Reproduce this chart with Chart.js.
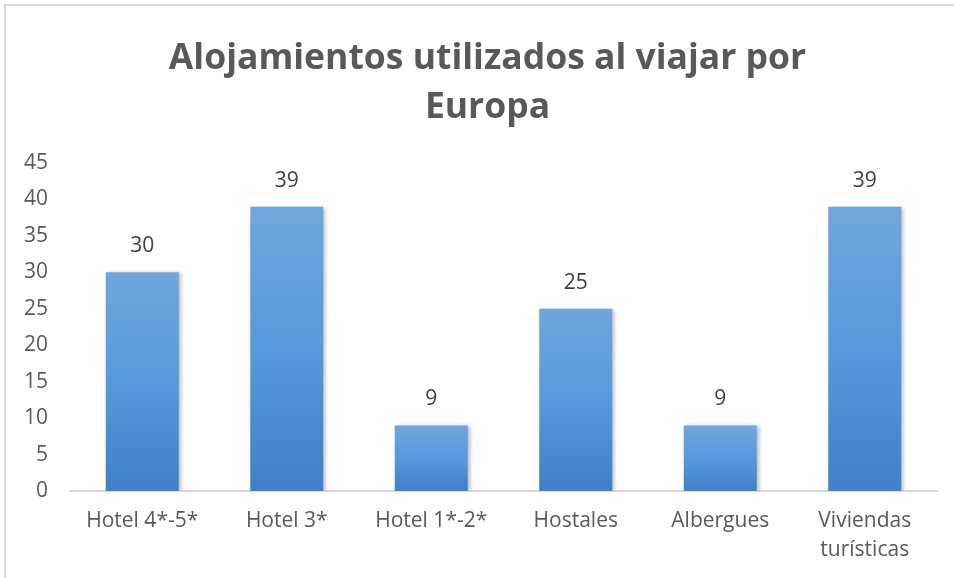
<!DOCTYPE html>
<html>
<head>
<meta charset="utf-8">
<script src="https://cdn.jsdelivr.net/npm/chart.js@4"></script>
<style>
    html, body { margin: 0; padding: 0; background: #fff; overflow: hidden; }
    #wrap { position: relative; width: 954px; height: 578px; overflow: hidden; }
    #frame { position: absolute; left: 4px; top: 4px; width: 1000px; height: 1000px;
             border-left: 2px solid #d9d9d9; border-top: 2px solid #d9d9d9; pointer-events: none; }
</style>
</head>
<body>
<div id="wrap">
    <canvas id="alojChart" width="954" height="578"></canvas>
    <div id="frame"></div>
</div>
<script>
// data
const categories = ['Hotel 4*-5*', 'Hotel 3*', 'Hotel 1*-2*', 'Hostales', 'Albergues', ['Viviendas', 'turísticas']];
const values = [30, 39, 9, 25, 9, 39];
const yTicks = [0, 5, 10, 15, 20, 25, 30, 35, 40, 45];
const titleLines = ['Alojamientos utilizados al viajar por', 'Europa'];

const fontFamily = '"Open Sans", Lato, sans-serif';

// bar gradient, from each bar's top down to the baseline
function barFill(context) {
    const chart = context.chart;
    const y = chart.scales.y;
    if (!y || !context.parsed) return '#5b9bd5';
    const top = y.getPixelForValue(context.parsed.y);
    const base = y.getPixelForValue(0);
    if (!isFinite(top) || !isFinite(base) || top === base) return '#5b9bd5';
    const g = chart.ctx.createLinearGradient(0, top, 0, base);
    g.addColorStop(0, '#70a6dc');
    g.addColorStop(0.5, '#5699dc');
    g.addColorStop(1, '#3f80c6');
    return g;
}

// soft shadow behind the bars
const barShadow = {
    id: 'barShadow',
    beforeDatasetsDraw(chart) {
        const ctx = chart.ctx;
        ctx.save();
        ctx.shadowColor = 'rgba(0,0,0,0.28)';
        ctx.shadowBlur = 4;
        ctx.shadowOffsetX = 2;
        ctx.shadowOffsetY = 1;
    },
    afterDatasetsDraw(chart) {
        chart.ctx.restore();
    }
};

// the title sits centred on the whole frame, a bit right of the canvas centre
const titleShift = {
    id: 'titleShift',
    afterLayout(chart) {
        if (chart.titleBlock) {
            chart.titleBlock.left += 19;
            chart.titleBlock.right += 19;
        }
    }
};

// value labels above the bars
const valueLabels = {
    id: 'valueLabels',
    afterDatasetsDraw(chart) {
        const ctx = chart.ctx;
        const meta = chart.getDatasetMeta(0);
        ctx.save();
        ctx.font = '21px ' + fontFamily;
        ctx.fillStyle = '#404040';
        ctx.textAlign = 'center';
        ctx.textBaseline = 'middle';
        meta.data.forEach(function(bar, i) {
            ctx.fillText(String(values[i]), bar.x, bar.y - 26);
        });
        ctx.restore();
    }
};

document.addEventListener('DOMContentLoaded', function() {
    const ctx = document.getElementById('alojChart').getContext('2d');
    new Chart(ctx, {
        type: 'bar',
        data: {
            labels: categories,
            datasets: [{
                label: 'Alojamientos',
                data: values,
                backgroundColor: barFill,
                borderWidth: 0,
                categoryPercentage: 1,
                barPercentage: 0.505
            }]
        },
        options: {
            responsive: false,
            animation: false,
            layout: { padding: { top: 0, right: 17, bottom: 0, left: 0 } },
            plugins: {
                legend: { display: false },
                tooltip: { enabled: false },
                title: {
                    display: true,
                    text: titleLines,
                    color: '#595959',
                    font: { family: fontFamily, size: 35.5, weight: 'bold', lineHeight: 1.38 },
                    padding: { top: 34, bottom: 31 }
                }
            },
            scales: {
                x: {
                    grid: { display: false, drawTicks: false },
                    border: { display: true, color: '#d9d9d9', width: 2 },
                    ticks: {
                        color: '#595959',
                        font: { family: fontFamily, size: 21, lineHeight: 1.35 },
                        padding: 16,
                        maxRotation: 0,
                        autoSkip: false
                    },
                    afterFit: function(scale) { scale.height = 87; }
                },
                y: {
                    min: 0,
                    max: 45,
                    afterBuildTicks: function(scale) {
                        scale.ticks = yTicks.map(function(v) { return { value: v }; });
                    },
                    grid: { display: false, drawTicks: false },
                    border: { display: false },
                    ticks: {
                        color: '#595959',
                        font: { family: fontFamily, size: 21 },
                        padding: 22
                    },
                    afterFit: function(scale) { scale.width = 70; }
                }
            }
        },
        plugins: [barShadow, titleShift, valueLabels]
    });
});
</script>
</body>
</html>
